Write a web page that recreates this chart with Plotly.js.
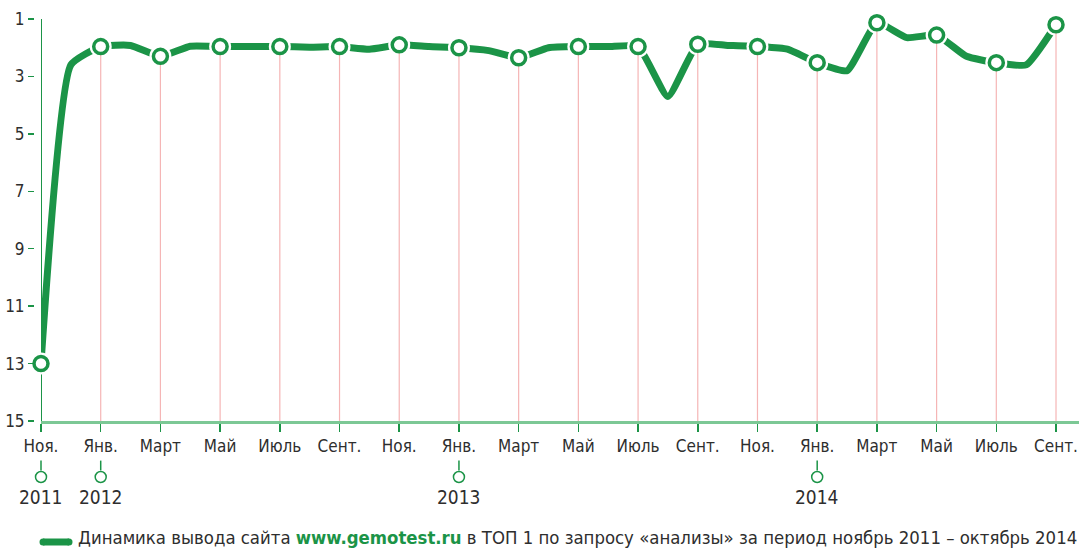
<!DOCTYPE html>
<html><head><meta charset="utf-8">
<script src="https://cdn.plot.ly/plotly-3.0.1.min.js"></script>
<style>html,body{margin:0;padding:0;background:#fff}#c{width:1079px;height:548px}</style>
</head><body><div id="c"></div>
<script>
// months since Nov 2011 (0 = Nov 2011 ... 34 = Sep 2014)
const months = [0,1,2,3,4,5,6,7,8,9,10,11,12,13,14,15,16,17,18,19,20,21,22,23,24,25,26,27,28,29,30,31,32,33,34];
const positions = [13.0,2.6,1.96,1.92,2.3,1.95,1.96,1.96,1.96,1.98,1.96,2.05,1.9,1.96,2.0,2.1,2.35,2.0,1.96,1.96,1.96,3.7,1.88,1.92,1.96,2.05,2.52,2.8,1.13,1.65,1.56,2.3,2.52,2.6,1.2];
const tickMonths = [0,2,4,6,8,10,12,14,16,18,20,22,24,26,28,30,32,34];
const tickLabels = ['Ноя.','Янв.','Март','Май','Июль','Сент.','Ноя.','Янв.','Март','Май','Июль','Сент.','Ноя.','Янв.','Март','Май','Июль','Сент.'];
const yearMonths = [0,2,14,26];
const yearLabels = ['2011','2012','2013','2014'];
const yTicks = [1,3,5,7,9,11,13,15];
const legendText = 'Динамика вывода сайта <b><span style="color:#1b9447">www.gemotest.ru</span></b> в ТОП 1 по запросу «анализы» за период ноябрь 2011 – октябрь 2014';

const GREEN = '#1b9447';
const TEXT = '#2e2e2e';
const FONT = '"DejaVu Sans Condensed", "DejaVu Sans", sans-serif';

// layout helpers (pixel -> paper fractions)
const L = 10, W = 1079 - L;
const T = 19, BOT = 512, PH = BOT - T;
const pxX = p => (p - L) / W;
const pyY = p => (BOT - p) / PH;
const AXIS_Y = 421;

const markerY = tickMonths.map(m => positions[months.indexOf(m)]);
const stems = markerY.map((v,i) => i === 0 ? 0 : 15 - v);

const yearTickRow = 44.5;   // px below axis (y2 scale)
const yearCircleRow = 56;

const traces = [
  {x: months, y: positions, mode: 'lines', showlegend: false,
   line: {color: GREEN, width: 7, shape: 'spline', smoothing: 0.45},
   cliponaxis: false, hoverinfo: 'skip'},
  {x: tickMonths, y: markerY, mode: 'markers', showlegend: false,
   marker: {size: 22, color: '#ffffff', line: {width: 0}},
   cliponaxis: false, hoverinfo: 'skip'},
  {x: tickMonths, y: markerY, mode: 'markers', showlegend: false,
   marker: {size: 14, color: '#ffffff', line: {color: GREEN, width: 3.5}},
   error_y: {type: 'data', symmetric: false, array: stems, arrayminus: markerY.map(()=>0),
             color: '#f5b5b5', thickness: 1.2, width: 0},
   cliponaxis: false, hoverinfo: 'skip'},
  {x: yearMonths, y: yearMonths.map(()=>yearTickRow), yaxis: 'y2', mode: 'markers', showlegend: false,
   marker: {symbol: 'line-ns', size: 7, line: {color: GREEN, width: 1.5}},
   cliponaxis: false, hoverinfo: 'skip'},
  {x: yearMonths, y: yearMonths.map(()=>yearCircleRow), yaxis: 'y2', mode: 'markers', showlegend: false,
   marker: {symbol: 'circle', size: 11, color: '#ffffff', line: {color: GREEN, width: 1.5}},
   cliponaxis: false, hoverinfo: 'skip'}
];

const shapes = [
  {type: 'line', xref: 'x', yref: 'paper', x0: 0, x1: 0, y0: pyY(AXIS_Y), y1: 1, layer: 'below',
   line: {color: GREEN, width: 2}},
  {type: 'line', xref: 'paper', yref: 'paper', x0: pxX(43), x1: pxX(69), y0: pyY(542), y1: pyY(542),
   line: {color: GREEN, width: 7}},
  {type: 'circle', xref: 'paper', yref: 'paper', x0: pxX(39.5), x1: pxX(46.5), y0: pyY(545.5), y1: pyY(538.5),
   line: {width: 0}, fillcolor: GREEN},
  {type: 'circle', xref: 'paper', yref: 'paper', x0: pxX(65.5), x1: pxX(72.5), y0: pyY(545.5), y1: pyY(538.5),
   line: {width: 0}, fillcolor: GREEN}
];
const annotations = [];
yearMonths.forEach((m, i) => {
  annotations.push({xref: 'x', yref: 'paper', x: m, y: pyY(497), text: yearLabels[i], showarrow: false,
                    font: {family: FONT, size: 19, color: TEXT}, xanchor: 'center', yanchor: 'middle'});
});
annotations.push({xref: 'paper', yref: 'paper', x: pxX(76), y: pyY(537), xanchor: 'left', yanchor: 'middle',
                  text: legendText, showarrow: false, font: {family: FONT, size: 18.4, color: TEXT}});

const layout = {
  width: 1079, height: 548,
  margin: {l: L, r: 0, t: T, b: 548 - BOT},
  paper_bgcolor: '#fff', plot_bgcolor: 'rgba(0,0,0,0)',
  showlegend: false,
  xaxis: {domain: [pxX(41), 1], range: [0, 34.77], tickvals: tickMonths, ticktext: tickLabels,
          anchor: 'y', showgrid: false, zeroline: false, showline: true, linecolor: '#7cc895', linewidth: 3,
          ticks: 'outside', ticklen: 8, tickcolor: GREEN, tickwidth: 1.5,
          tickfont: {family: FONT, size: 17, color: TEXT}, fixedrange: true},
  yaxis: {domain: [pyY(AXIS_Y), 1], range: [15, 1], tickvals: yTicks, anchor: 'free', position: pxX(34),
          showgrid: false, zeroline: false, showline: false,
          ticks: 'outside', ticklen: 6, tickcolor: GREEN, tickwidth: 1.5,
          tickfont: {family: FONT, size: 17, color: TEXT}, fixedrange: true},
  yaxis2: {domain: [0, pyY(AXIS_Y)], anchor: 'x', range: [BOT - AXIS_Y, 0], visible: false, fixedrange: true},
  shapes: shapes, annotations: annotations
};

Plotly.newPlot('c', traces, layout, {displayModeBar: false, staticPlot: true});
</script></body></html>
